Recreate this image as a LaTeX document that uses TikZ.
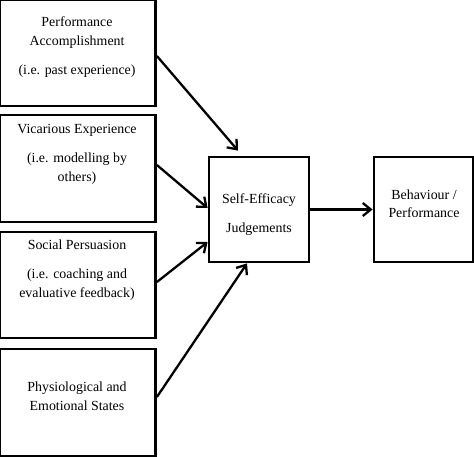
\documentclass[tikz,border=0pt]{standalone}
\usepackage{fontspec}
\setmainfont{Liberation Serif}
\usetikzlibrary{arrows.meta}
\begin{document}
\begin{tikzpicture}[x=1pt,y=-1pt,
  box/.style={draw, line width=2.8pt, inner sep=0pt},
  txt/.style={align=center, inner sep=0pt, font=\fontsize{13.9}{18.5}\selectfont},
  arr/.style={line width=2.3pt, -{Straight Barb[length=8pt,width=13pt]}}
]
\useasboundingbox (0,0) rectangle (474,456);
\clip (0,0) rectangle (474,456);
% boxes
\node[box, minimum width=155.5pt, minimum height=106pt] (b1) at (77.75,53) {};
\node[box, minimum width=155.5pt, minimum height=107pt] (b2) at (77.75,168.5) {};
\node[box, minimum width=155.5pt, minimum height=106pt] (b3) at (77.75,285) {};
\node[box, minimum width=155.5pt, minimum height=107pt] (b4) at (77.75,402.5) {};
\node[box, minimum width=100pt, minimum height=105pt] (se) at (259,209.5) {};
\node[box, minimum width=99pt, minimum height=105pt] (bp) at (423.5,209.5) {};
% texts
\node[txt] (t1) at (77,47.5) {Performance\\Accomplishment\\[11pt](i.e. past experience)};
\node[txt] (t2) at (77,154) {Vicarious Experience\\[11pt](i.e. modelling by\\others)};
\node[txt] (t3) at (77,270) {Social Persuasion\\[11pt](i.e. coaching and\\evaluative feedback)};
\node[txt] (t4) at (77,396) {Physiological and\\Emotional States};
\node[txt] (t5) at (259,214.5) {Self-Efficacy\\[10pt]Judgements};
\node[txt] (t6) at (424,203.5) {Behaviour /\\Performance};
% arrows
\draw[arr] ([yshift=-3pt]b1.east) -- ([xshift=-21pt,yshift=5pt]se.north);
\draw[arr] ([yshift=3.5pt]b2.east) -- ([yshift=1.5pt]se.west);
\draw[arr] ([yshift=3pt]b3.east) -- ([yshift=-32.5pt]se.west);
\draw[arr] ([yshift=5.5pt]b4.east) -- ([xshift=-12pt]se.south);
\draw[arr] (se.east) -- (bp.west);
\end{tikzpicture}
\end{document}
